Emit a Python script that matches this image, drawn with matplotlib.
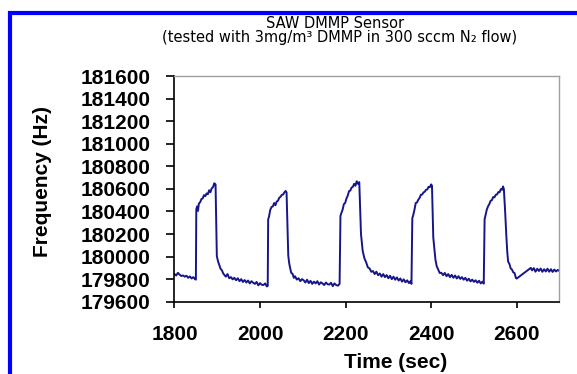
import matplotlib
matplotlib.use('Agg')
import matplotlib.pyplot as plt

# ================ data
time_sec = [
    1800, 1804, 1808, 1812, 1816, 1820, 1824, 1828, 1832, 1836, 1840, 1844, 1848, 1850,
    1851, 1853, 1855, 1857, 1860, 1863, 1866, 1869, 1872, 1875, 1878, 1881, 1884, 1887, 1890, 1893, 1896,
    1899, 1902, 1905, 1908, 1911, 1914, 1917, 1920, 1924, 1928, 1932, 1936, 1940, 1944, 1948, 1952, 1956,
    1960, 1964, 1968, 1972, 1976, 1980, 1984, 1988, 1992, 1996, 2000, 2004, 2008, 2012, 2016, 2018,
    2019, 2021, 2024, 2027, 2030, 2033, 2036, 2039, 2042, 2045, 2048, 2051, 2054, 2057, 2060, 2062,
    2066, 2068, 2070, 2073, 2076, 2079, 2082, 2086, 2090, 2094, 2098, 2102, 2106, 2110, 2114, 2118,
    2122, 2126, 2130, 2134, 2138, 2142, 2146, 2150, 2154, 2158, 2162, 2166, 2170, 2174, 2178, 2182, 2186,
    2188, 2190, 2193, 2196, 2199, 2202, 2205, 2208, 2211, 2214, 2217, 2220, 2223, 2226, 2229, 2232,
    2236, 2240, 2244, 2248, 2252, 2256, 2260, 2264, 2268, 2272, 2276, 2280, 2284, 2288, 2292, 2296,
    2300, 2304, 2308, 2312, 2316, 2320, 2324, 2328, 2332, 2336, 2340, 2344, 2348, 2352, 2354,
    2356, 2358, 2361, 2364, 2367, 2370, 2373, 2376, 2379, 2382, 2385, 2388, 2391, 2394, 2397, 2400, 2402,
    2405, 2408, 2410, 2413, 2416, 2420, 2424, 2428, 2432, 2436, 2440, 2444, 2448, 2452, 2456, 2460,
    2464, 2468, 2472, 2476, 2480, 2484, 2488, 2492, 2496, 2500, 2504, 2508, 2512, 2516, 2520, 2523,
    2525, 2527, 2530, 2533, 2536, 2539, 2542, 2545, 2548, 2551, 2554, 2557, 2560, 2563, 2566, 2568, 2570,
    2573, 2576, 2578, 2580, 2583, 2586, 2589, 2592, 2595, 2598, 2600,
    2633, 2636, 2640, 2644, 2648, 2652, 2656, 2660, 2664, 2668, 2672, 2676, 2680, 2684, 2688, 2692, 2696, 2700,
]
frequency_hz = [
    179845, 179832, 179856, 179840, 179828, 179833, 179822, 179830, 179812, 179824, 179806, 179818, 179800, 179796,
    180420, 180445, 180405, 180470, 180482, 180510, 180516, 180545, 180535, 180560, 180552, 180588, 180570, 180605, 180615, 180650, 180640,
    180004, 179955, 179922, 179890, 179878, 179850, 179836, 179822, 179845, 179808, 179818, 179798, 179812, 179790, 179808, 179782, 179800,
    179775, 179792, 179770, 179788, 179762, 179782, 179768, 179758, 179775, 179745, 179765, 179750, 179748, 179762, 179735, 179740,
    180330, 180355, 180415, 180440, 180445, 180475, 180455, 180488, 180495, 180522, 180530, 180548, 180550, 180570, 180582, 180568,
    180010, 179945, 179905, 179855, 179848, 179812, 179825, 179796, 179808, 179782, 179800, 179790, 179770, 179795, 179765, 179785,
    179758, 179778, 179762, 179782, 179752, 179772, 179762, 179748, 179770, 179755, 179752, 179768, 179738, 179762, 179748, 179742, 179758,
    180360, 180385, 180415, 180465, 180475, 180515, 180540, 180580, 180585, 180612, 180618, 180645, 180628, 180668, 180645, 180660,
    180200, 180050, 179985, 179950, 179905, 179895, 179865, 179872, 179845, 179866, 179835, 179850, 179822, 179845, 179818, 179836,
    179808, 179830, 179800, 179822, 179795, 179815, 179788, 179806, 179778, 179798, 179772, 179790, 179765, 179782, 179758,
    180340, 180365, 180415, 180475, 180480, 180505, 180520, 180548, 180550, 180568, 180575, 180592, 180595, 180618, 180615, 180640, 180628,
    180170, 180050, 179975, 179915, 179890, 179855, 179856, 179835, 179855, 179826, 179845, 179818, 179838, 179812, 179832, 179806,
    179826, 179802, 179818, 179795, 179812, 179786, 179804, 179780, 179796, 179776, 179790, 179768, 179786, 179762, 179778, 179760,
    180330, 180365, 180415, 180445, 180465, 180495, 180500, 180528, 180525, 180548, 180550, 180572, 180570, 180598, 180592, 180622, 180600,
    180400, 180170, 180040, 179955, 179935, 179895, 179885, 179860, 179855, 179812, 179805,
    179900, 179878, 179898, 179866, 179892, 179872, 179894, 179865, 179888, 179868, 179892, 179866, 179888, 179864, 179885, 179868, 179882, 179872,
]
x_ticks = [1800, 2000, 2200, 2400, 2600]
y_ticks = [179600, 179800, 180000, 180200, 180400, 180600, 180800, 181000, 181200, 181400, 181600]

plt.rcParams['font.family'] = ['Liberation Sans', 'DejaVu Sans']

fig = plt.figure(figsize=(5.77, 3.74), dpi=100)
ax = fig.add_axes([0.3024, 0.1933, 0.6672, 0.6032])

ax.plot(time_sec, frequency_hz, c='#16168a', linewidth=1.4)

ax.set_xlim(1800, 2700)
ax.set_ylim(179600, 181600)
ax.set_xticks(x_ticks)
ax.set_yticks(y_ticks)
ax.set_xticklabels([str(v) for v in x_ticks], fontsize=15, fontweight='bold')
ax.set_yticklabels([str(v) for v in y_ticks], fontsize=15, fontweight='bold')
ax.tick_params(axis='x', direction='out', length=4.5, width=1.2, pad=12)
ax.tick_params(axis='y', direction='out', length=6, width=1.2, pad=11.5)

for key in ['left', 'bottom']:
    ax.spines[key].set_color('black')
    ax.spines[key].set_linewidth(1.2)
for key in ['top', 'right']:
    ax.spines[key].set_color('#a0a0a0')
    ax.spines[key].set_linewidth(1.0)

# titles / labels
fig.text(0.581, 0.938, 'SAW DMMP Sensor', ha='center', va='center', fontsize=10.5,
         family=['DejaVu Sans'])
fig.text(0.589, 0.901, '(tested with 3mg/m³ DMMP in 300 sccm N₂ flow)', ha='center', va='center',
         fontsize=10.5, family=['DejaVu Sans'])
fig.text(0.0745, 0.516, 'Frequency (Hz)', rotation=90, ha='center', va='center', fontsize=15, fontweight='bold')
fig.text(0.6854, 0.032, 'Time (sec)', ha='center', va='center', fontsize=15, fontweight='bold')

# blue frame (top + left edge)
frame = plt.Rectangle((10 / 577, -0.2), 1.2, (374 - 13) / 374 + 0.2, transform=fig.transFigure,
                      fill=False, edgecolor='#0000ff', linewidth=3)
fig.add_artist(frame)

fig.savefig('out.png', dpi=100)
